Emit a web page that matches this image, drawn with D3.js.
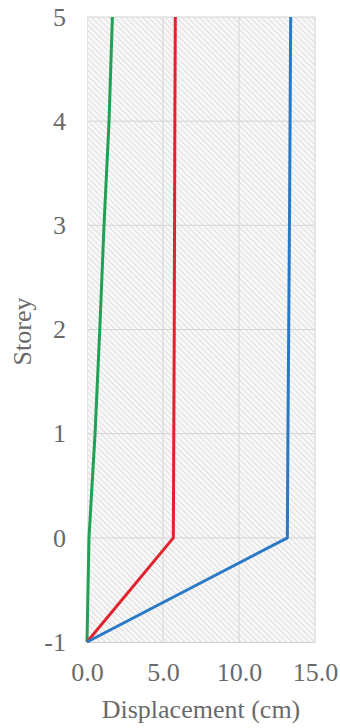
<!DOCTYPE html>
<html>
<head>
<meta charset="utf-8">
<script src="https://cdn.jsdelivr.net/npm/d3@7"></script>
<style>
  html, body { margin: 0; padding: 0; background: #fff; }
  svg { display: block; }
</style>
</head>
<body>
<svg id="chart" width="340" height="728"></svg>
<script>
// Storey levels (basement = -1) and lateral displacement per storey, in cm
const storeys = [-1, 0, 1, 2, 3, 4, 5];
const dispGreen = [0, 0.13, 0.53, 0.84, 1.12, 1.45, 1.67];
const dispRed   = [0, 5.68, 5.71, 5.74, 5.76, 5.78, 5.81];
const dispBlue  = [0, 13.18, 13.22, 13.27, 13.32, 13.36, 13.40];
const xTicks = [0, 5, 10, 15];
const yTicks = [-1, 0, 1, 2, 3, 4, 5];

const series = [
  { values: dispGreen, color: "#22a055" },
  { values: dispRed,   color: "#e2222f" },
  { values: dispBlue,  color: "#2a79c6" }
];

const FONT = "Liberation Serif";
const TEXT_COLOR = "#6a6a6a";
const FONT_SIZE = 26;

const W = 340, H = 728;
const margin = { top: 17, right: 25, bottom: 86, left: 87 };
const svg = d3.select("#chart");

const x = d3.scaleLinear().domain([0, 15]).range([margin.left, W - margin.right]);
const y = d3.scaleLinear().domain([-1, 5]).range([H - margin.bottom, margin.top]);

// Hatched plot-area fill
const defs = svg.append("defs");
const pat = defs.append("pattern")
  .attr("id", "hatch")
  .attr("patternUnits", "userSpaceOnUse")
  .attr("width", 4).attr("height", 4)
  .attr("patternTransform", "rotate(-45)");
pat.append("rect").attr("width", 4).attr("height", 4).attr("fill", "#f8f8f8");
pat.append("line")
  .attr("x1", 0).attr("y1", 0).attr("x2", 0).attr("y2", 4)
  .attr("stroke", "#d8d8d8").attr("stroke-width", 1.6);

svg.append("rect")
  .attr("x", x(0)).attr("y", y(5))
  .attr("width", x(15) - x(0)).attr("height", y(-1) - y(5))
  .attr("fill", "url(#hatch)");

// Gridlines
svg.append("g")
  .selectAll("line")
  .data(xTicks.slice(1))
  .join("line")
  .attr("x1", d => x(d)).attr("x2", d => x(d))
  .attr("y1", y(5)).attr("y2", y(-1))
  .attr("stroke", "#d4d4d4").attr("stroke-width", 1);

svg.append("g")
  .selectAll("line")
  .data(yTicks.slice(1))
  .join("line")
  .attr("x1", x(0)).attr("x2", x(15))
  .attr("y1", d => y(d)).attr("y2", d => y(d))
  .attr("stroke", "#d4d4d4").attr("stroke-width", 1);

// Axes
const xAxis = svg.append("g")
  .attr("transform", `translate(0,${y(-1)})`)
  .attr("font-family", FONT)
  .call(d3.axisBottom(x).tickValues(xTicks).tickFormat(d3.format(".1f")).tickSize(0).tickPadding(21));
xAxis.attr("font-family", FONT).attr("font-size", FONT_SIZE);
xAxis.select(".domain").attr("stroke", "#d0d0d0");

const yAxis = svg.append("g")
  .attr("transform", `translate(${x(0)},0)`)
  .call(d3.axisLeft(y).tickValues(yTicks).tickFormat(d => String(d)).tickSize(0).tickPadding(21));
yAxis.attr("font-family", FONT).attr("font-size", FONT_SIZE);
yAxis.select(".domain").attr("stroke", "#e2e2e2");

svg.selectAll(".tick text")
  .attr("font-family", FONT)
  .attr("font-size", FONT_SIZE)
  .attr("fill", TEXT_COLOR);

// Axis titles
svg.append("text")
  .attr("x", (x(0) + x(15)) / 2).attr("y", 718)
  .attr("text-anchor", "middle")
  .attr("font-family", FONT).attr("font-size", FONT_SIZE).attr("fill", TEXT_COLOR)
  .text("Displacement (cm)");

svg.append("text")
  .attr("transform", `translate(31,${(y(-1) + y(5)) / 2 + 2}) rotate(-90)`)
  .attr("text-anchor", "middle")
  .attr("font-family", FONT).attr("font-size", FONT_SIZE).attr("fill", TEXT_COLOR)
  .text("Storey");

// Displacement profiles
const line = d3.line()
  .x(d => x(d[0]))
  .y(d => y(d[1]));

svg.append("g")
  .selectAll("path")
  .data(series)
  .join("path")
  .attr("d", s => line(s.values.map((v, i) => [v, storeys[i]])))
  .attr("fill", "none")
  .attr("stroke", s => s.color)
  .attr("stroke-width", 3)
  .attr("stroke-linejoin", "round");
</script>
</body>
</html>
